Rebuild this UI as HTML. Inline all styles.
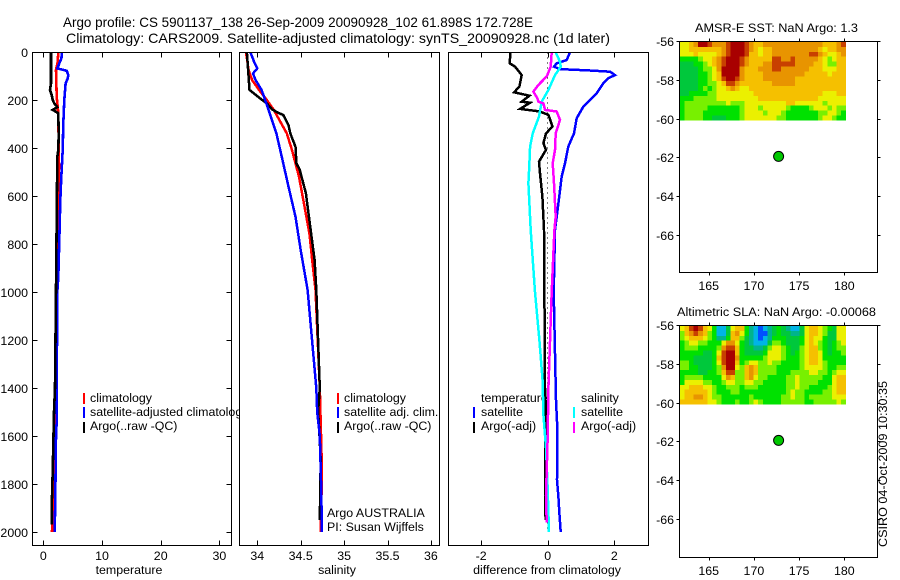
<!DOCTYPE html>
<html>
<head>
<meta charset="utf-8">
<title>Argo profile</title>
<style>
html,body{margin:0;padding:0;background:#fff;}
svg{display:block;}
text{font-family:"Liberation Sans",sans-serif;fill:#000;font-size:12.4px;}
.title{font-size:14px;}
</style>
</head>
<body>
<svg id="chart" xmlns="http://www.w3.org/2000/svg" width="900" height="580" viewBox="0 0 900 580">
<defs><clipPath id="clip-p1"><rect x="32" y="52" width="207" height="493"/></clipPath></defs>
<text class="title" x="63" y="27" textLength="470" lengthAdjust="spacingAndGlyphs">Argo profile: CS 5901137_138 26-Sep-2009 20090928_102 61.898S 172.728E</text>
<text class="title" x="66" y="43" textLength="544" lengthAdjust="spacingAndGlyphs">Climatology: CARS2009. Satellite-adjusted climatology: synTS_20090928.nc (1d later)</text>
<text x="695" y="32" textLength="163" lengthAdjust="spacingAndGlyphs">AMSR-E SST: NaN Argo: 1.3</text>
<text x="677" y="316" textLength="199" lengthAdjust="spacingAndGlyphs">Altimetric SLA: NaN Argo: -0.00068</text>
<text transform="translate(887,547) rotate(-90)" textLength="166" lengthAdjust="spacingAndGlyphs">CSIRO 04-Oct-2009 10:30:35</text>
<text x="129" y="574" text-anchor="middle">temperature</text>
<text x="337" y="574" text-anchor="middle">salinity</text>
<text x="547" y="574" text-anchor="middle">difference from climatology</text>
<text x="327" y="517">Argo AUSTRALIA</text>
<text x="327" y="531">PI: Susan Wijffels</text>
<g clip-path="url(#clip-p1)">
<text x="90" y="402">climatology</text>
<text x="90" y="416">satellite-adjusted climatology</text>
<text x="90" y="430">Argo(..raw -QC)</text>
</g>
<text x="344" y="402">climatology</text>
<text x="344" y="416">satellite adj. clim.</text>
<text x="344" y="430">Argo(..raw -QC)</text>
<text x="481" y="402">temperature</text>
<text x="481" y="416">satellite</text>
<text x="481" y="430">Argo(-adj)</text>
<text x="581" y="402">salinity</text>
<text x="581" y="416">satellite</text>
<text x="581" y="430">Argo(-adj)</text>
<rect x="83" y="393" width="2" height="11" fill="#f00"/>
<rect x="83" y="407" width="2" height="11" fill="#00f"/>
<rect x="83" y="422" width="2" height="11" fill="#000"/>
<rect x="337" y="393" width="2" height="11" fill="#f00"/>
<rect x="337" y="407" width="2" height="11" fill="#00f"/>
<rect x="337" y="422" width="2" height="11" fill="#000"/>
<rect x="473" y="407" width="2" height="11" fill="#00f"/>
<rect x="473" y="422" width="2" height="11" fill="#000"/>
<rect x="573" y="407" width="2" height="11" fill="#0ff"/>
<rect x="573" y="422" width="2" height="11" fill="#f0f"/>
</svg>
<script>
// ---- profile data: depth (m) and value pairs ----
const tempClimDepth = [0,40,74,185,254,477,686,1000,1400,1800,2000];
const tempClimValue = [2.56,2.45,2.17,2.28,2.56,2.67,2.56,2.28,2.0,1.7,1.48];
const tempSatDepth = [0,25,45,67,77,95,109,130,199,296,408,519,616,783,936,1000,1400,1540,1600,1850,2000];
const tempSatValue = [3.19,3.08,2.75,2.4,3.98,4.26,4.15,3.8,3.58,3.41,3.3,3.07,2.9,2.73,2.56,2.39,2.28,2.28,2.17,2.05,1.94];
const tempArgoDepth = [0,130,157,178,199,213,229,240,254,338,408,436,990,1400,1500,1750,1900,1970];
const tempArgoValue = [1.31,1.31,1.14,1.43,1.6,1.88,2.39,1.6,2.56,2.62,2.56,2.39,2.17,1.99,1.82,1.6,1.43,1.43];

const salClimDepth = [0,74,116,157,199,240,338,408,519,616,755,894,991,1400,1750,2000];
const salClimValue = [33.87,33.9,33.94,34.02,34.11,34.19,34.34,34.4,34.48,34.53,34.6,34.64,34.67,34.72,34.745,34.73];
const salSatDepth = [0,46,67,88,116,157,199,240,338,449,560,686,825,991,1400,1500,1600,1800,2000];
const salSatValue = [33.92,33.97,34.0,33.95,33.98,34.05,34.09,34.13,34.22,34.29,34.36,34.44,34.5,34.58,34.68,34.69,34.72,34.735,34.745];
const salArgoDepth = [0,157,171,192,213,238,248,262,303,338,394,463,491,588,672,755,866,991,1400,1500,1550,1700,1950];
const salArgoValue = [33.88,33.91,33.96,34.03,34.11,34.17,34.22,34.3,34.36,34.38,34.44,34.45,34.49,34.56,34.59,34.62,34.66,34.68,34.72,34.7,34.71,34.73,34.72];

const diffTempSatDepth = [0,32,46,60,70,76,81,95,108,129,171,227,275,338,393,463,518,630,741,1000,1450,1575,1783,1853,1923,2000];
const diffTempSatValue = [.67,.57,.27,.19,.37,1.27,1.87,2.02,1.82,1.67,1.47,1.07,.87,.79,.62,.52,.42,.32,.22,.18,.25,.29,.28,.32,.35,.39];
const diffTempArgoDepth = [0,46,60,95,143,167,181,206,210,236,247,261,279,310,338,379,407,456,504,602,741,1000,1400,1500,1730,1920,1950];
const diffTempArgoValue = [-1.12,-1.14,-.98,-.78,-.85,-1.01,-.55,-.78,-.53,-.83,-.23,.02,.07,.14,-.05,-.13,-.05,-.26,-.23,-.16,-.11,-.1,-.08,-.05,-.08,-.08,-.05];
const diffSalSatDepth = [0,39,60,95,157,206,268,338,393,491,546,630,741,1000,1200,1375,1510,1650,1790,2000];
const diffSalSatValue = [.24,.37,.39,.22,.02,-.18,-.26,-.45,-.53,-.56,-.58,-.55,-.51,-.38,-.25,-.15,-.13,-.05,-.01,.04];
const diffSalArgoDepth = [0,60,101,136,164,192,206,213,240,247,282,338,407,463,546,685,741,1000,1400,1600,1850,1960];
const diffSalArgoValue = [.12,.09,-.03,-.28,-.43,-.31,-.28,-.13,-.08,.27,.37,.24,.22,.15,.19,.24,.2,.12,.02,0,-.05,-.03];
const zeroLineDepth = [0,2000];
const zeroLineValue = [0,0];

// ---- tick labels ----
const depthTicks = [0,200,400,600,800,1000,1200,1400,1600,1800,2000];
const tempTicks = [0,10,20,30];
const salTicks = [34,34.5,35,35.5,36];
const diffTicks = [-2,0,2];
const lonTicks = [165,170,175,180];
const latTicks = [-56,-58,-60,-62,-64,-66];

// ---- map data ----
const floatLon = [172.728];
const floatLat = [-61.898];
const sstGrid = [
[6,6,7,8,10,10,9,8,8,8,9,10,10,10,9,8,7,7,8,8,8,8,8,8,8,8,8,8,8,8,8,7,7,7,8,9],
[6,6,7,7,7,7,7,7,7,8,9,10,10,10,9,8,7,6,7,7,8,8,8,8,8,8,8,8,8,8,7,6,7,7,8,8],
[6,6,6,7,6,6,6,6,7,8,9,10,10,10,9,7,7,6,7,7,8,8,8,8,8,8,8,8,9,9,8,7,6,6,7,8],
[4,4,4,4,5,6,6,7,8,9,10,10,10,9,8,7,7,7,7,7,9,9,8,8,9,8,8,8,8,8,7,6,5,6,7,7],
[3,3,3,4,4,5,6,7,8,9,10,10,10,9,8,7,7,7,8,8,9,9,9,9,9,8,8,8,8,7,7,6,5,5,7,7],
[3,3,3,3,4,5,5,6,8,10,10,10,10,8,7,7,7,8,8,8,9,9,8,8,8,8,8,8,7,7,7,6,6,6,7,7],
[3,3,3,3,4,4,5,6,7,10,10,10,10,8,7,7,7,7,8,8,8,8,8,8,8,8,8,7,7,7,7,7,6,7,7,7],
[3,3,3,3,4,4,5,6,7,9,10,10,9,8,7,7,7,7,8,8,8,8,8,8,8,7,7,7,7,7,7,7,7,7,7,7],
[3,3,3,3,4,4,5,5,6,7,9,9,8,7,7,7,7,7,7,7,8,8,8,8,8,7,7,7,7,7,7,7,7,7,7,7],
[3,3,3,3,4,5,4,5,6,6,7,8,7,6,6,7,7,7,7,7,7,7,7,7,7,7,7,7,7,7,7,7,7,7,7,7],
[3,3,4,4,4,4,5,5,6,6,6,6,6,6,6,6,7,7,7,7,7,7,7,7,7,7,7,7,7,7,7,6,6,6,7,7],
[4,4,4,5,5,5,5,5,6,6,6,6,6,6,6,6,6,7,7,7,7,7,7,7,7,7,7,7,7,7,6,6,6,6,6,6],
[4,5,5,5,5,5,5,5,5,5,6,5,5,5,6,6,6,6,6,6,6,6,6,7,7,6,6,6,6,6,6,5,6,6,6,6],
[4,5,5,5,5,5,4,4,4,4,4,4,4,5,6,6,6,5,6,6,6,6,6,5,4,4,4,4,5,6,6,6,5,6,5,5],
[4,5,5,5,5,4,4,4,4,4,4,4,4,5,6,6,6,6,5,6,6,6,5,4,4,4,4,4,4,4,5,5,6,6,5,4],
[4,5,5,5,5,4,4,3,3,3,4,4,4,5,6,6,6,6,6,6,6,5,5,4,4,4,4,4,4,4,5,6,6,5,4,4]
];
const slaGrid = [
[6,7,9,10,9,7,6,4,1,1,3,6,7,7,4,2,1,0,1,2,3,4,3,2,1,1,3,6,7,7,6,5,4,3,6,6],
[5,7,8,9,8,7,5,4,1,1,3,7,8,6,4,2,1,0,0,2,3,4,3,3,2,2,3,6,7,7,6,5,3,3,6,6],
[5,6,7,7,7,6,5,4,2,2,4,7,7,5,3,2,1,0,1,2,4,4,4,3,3,3,4,6,7,6,6,4,3,3,6,6],
[4,5,6,6,5,5,4,4,4,6,8,8,6,4,3,2,1,1,1,3,5,5,4,3,3,3,4,6,7,6,5,4,3,4,5,6],
[4,5,5,5,4,4,4,4,5,8,9,9,7,4,3,3,2,2,3,5,6,6,5,4,3,3,5,6,7,7,5,4,3,4,5,5],
[4,4,4,4,4,3,3,4,6,9,10,10,7,4,3,3,3,3,4,6,6,6,5,4,3,4,5,6,7,7,6,4,3,4,4,5],
[4,4,4,3,3,3,3,4,7,9,10,10,8,4,4,4,4,4,5,6,6,6,5,4,4,4,5,6,7,7,6,4,4,4,4,4],
[5,5,4,3,3,3,3,4,6,9,10,10,7,4,5,6,6,5,5,6,5,5,4,4,4,4,5,6,7,7,6,5,4,4,4,4],
[5,5,4,4,3,3,3,4,5,8,10,10,6,5,7,8,7,5,5,5,5,4,4,4,4,4,5,6,6,6,6,5,4,4,5,5],
[4,4,4,4,3,3,4,4,5,7,9,9,5,5,7,8,7,5,5,5,5,4,4,4,5,5,5,5,6,6,5,5,4,5,6,6],
[4,5,5,5,5,4,4,4,4,6,8,7,5,5,7,8,6,5,5,4,4,4,4,5,5,6,5,5,5,5,5,4,4,6,7,7],
[4,6,6,6,6,5,5,4,4,5,6,6,5,5,6,6,5,5,4,4,4,4,4,5,5,6,5,5,5,5,4,4,4,6,7,7],
[6,6,7,7,7,6,6,5,4,4,5,5,5,4,5,5,5,4,4,4,4,4,4,5,5,6,5,5,4,4,4,4,5,6,7,7],
[6,7,7,7,7,7,6,5,4,4,4,5,5,4,4,4,4,4,4,4,4,4,4,5,6,5,5,4,4,4,4,5,5,6,7,7],
[6,7,7,8,8,7,6,5,5,4,4,4,4,4,4,5,4,4,4,4,4,4,5,5,6,5,5,4,5,5,5,5,5,6,6,6],
[7,7,7,7,7,7,6,6,5,4,4,4,5,4,4,5,6,5,4,4,4,4,5,5,5,5,5,4,4,5,5,5,5,5,6,5]
];
const colorScale = ["#0050ff","#00b4e6","#00b48c","#00c83c","#00e100","#78f000","#ebf000","#f5c000","#e89400","#c84000","#a80000"];

const svg = document.getElementById('chart');
const NS = 'http://www.w3.org/2000/svg';
function make(tag, attrs, parent){
  const el = document.createElementNS(NS, tag);
  for (const k in attrs) el.setAttribute(k, attrs[k]);
  (parent || svg).appendChild(el);
  return el;
}
// axis functions
const yDepth = d => 52.3 + 0.2398 * d;
const xTemp = v => 43.3 + 5.87 * v;
const xSal = v => 257.3 + 86.8 * (v - 34);
const xDiff = v => 547.7 + 33.3 * v;
const xLon = v => 708.7 + 9.04 * (v - 165);
const yLatTop = v => 42 + 19.4 * (-56 - v);
const yLatBot = v => 326 + 19.4 * (-56 - v);

function drawLine(name, depths, values, xf, color, width, dash){
  const pts = depths.map((d, i) => xf(values[i]).toFixed(1) + ',' + yDepth(d).toFixed(1)).join(' ');
  const el = make('polyline', {points: pts, fill: 'none', stroke: color, 'stroke-width': width, 'shape-rendering': 'crispEdges'});
  if (dash) el.setAttribute('stroke-dasharray', dash);
  
  
}
function tickLine(x1, y1, x2, y2, parentName){
  const el = make('line', {x1: x1, y1: y1, x2: x2, y2: y2, stroke: '#000', 'stroke-width': 1, 'shape-rendering': 'crispEdges'});
  
  
}
function label(txt, x, y, anchor, name){
  const el = make('text', {x: x, y: y, 'text-anchor': anchor});
  el.textContent = txt;
  
  
}
function frame(x, y, w, h, name){
  const el = make('rect', {x: x, y: y, width: w, height: h, fill: 'none', stroke: '#000', 'stroke-width': 1, 'shape-rendering': 'crispEdges'});
  
  
}

// temperature panel
drawLine('temperature-climatology-line', tempClimDepth, tempClimValue, xTemp, '#f00', 2.6);
drawLine('temperature-satellite-line', tempSatDepth, tempSatValue, xTemp, '#00f', 2.6);
drawLine('temperature-argo-line', tempArgoDepth, tempArgoValue, xTemp, '#000', 2.6);
// salinity panel
drawLine('salinity-climatology-line', salClimDepth, salClimValue, xSal, '#f00', 2.5);
drawLine('salinity-argo-line', salArgoDepth, salArgoValue, xSal, '#000', 2.5);
drawLine('salinity-satellite-line', salSatDepth, salSatValue, xSal, '#00f', 2.5);
// difference panel
drawLine('zero-reference-line', zeroLineDepth, zeroLineValue, xDiff, '#000', 1, '1 4');
drawLine('difference-temp-satellite-line', diffTempSatDepth, diffTempSatValue, xDiff, '#00f', 2.5);
drawLine('difference-temp-argo-line', diffTempArgoDepth, diffTempArgoValue, xDiff, '#000', 2.5);
drawLine('difference-sal-satellite-line', diffSalSatDepth, diffSalSatValue, xDiff, '#0ff', 2.5);
drawLine('difference-sal-argo-line', diffSalArgoDepth, diffSalArgoValue, xDiff, '#f0f', 2.5);

// panel frames, ticks
frame(32.5, 52.5, 199, 493, 'temperature-panel-frame');
frame(239.5, 52.5, 200, 493, 'salinity-panel-frame');
frame(448.5, 52.5, 200, 493, 'difference-panel-frame');
depthTicks.forEach(d => {
  const y = Math.round(yDepth(d)) + 0.5;
  tickLine(32.5, y, 37.5, y, 'depth-tick-left');
  tickLine(226.5, y, 231.5, y, 'depth-tick-right');
  label(String(d), 28, y + 4.5, 'end', 'depth-tick-label');
});
tempTicks.forEach(v => {
  const x = Math.round(xTemp(v)) + 0.5;
  tickLine(x, 52.5, x, 57.5, 'temperature-tick-top');
  tickLine(x, 540.5, x, 545.5, 'temperature-tick-bottom');
  label(String(v), xTemp(v), 560, 'middle', 'temperature-tick-label');
});
salTicks.forEach(v => {
  const x = Math.round(xSal(v)) + 0.5;
  tickLine(x, 52.5, x, 57.5, 'salinity-tick-top');
  tickLine(x, 540.5, x, 545.5, 'salinity-tick-bottom');
  label(String(v), xSal(v), 560, 'middle', 'salinity-tick-label');
});
diffTicks.forEach(v => {
  const x = Math.round(xDiff(v)) + 0.5;
  tickLine(x, 52.5, x, 57.5, 'difference-tick-top');
  tickLine(x, 540.5, x, 545.5, 'difference-tick-bottom');
  label(String(v), xDiff(v), 560, 'middle', 'difference-tick-label');
});

// maps
function drawMap(prefix, grid, yLat, bottomPx){
  const lonStart = 161.8, dLon = 0.51, dLat = 0.2525;
  const gEl = make('g', {'shape-rendering': 'crispEdges'});
  
  
  grid.forEach((row, r) => {
    row.forEach((v, c) => {
      const x0 = xLon(lonStart + c * dLon);
      const x1 = xLon(lonStart + (c + 1) * dLon);
      const y0 = yLat(-56 - r * dLat);
      const y1 = yLat(-56 - (r + 1) * dLat);
      const cell = make('rect', {x: x0.toFixed(2), y: y0.toFixed(2), width: (x1 - x0 + 0.3).toFixed(2), height: (y1 - y0 + 0.3).toFixed(2), fill: colorScale[v]}, gEl);
      
      
    });
  });
  const top = Math.round(yLat(-56));
  frame(679.5, top - 0.5, 198, bottomPx - top + 1, prefix + '-map-frame');
  lonTicks.forEach(v => {
    const x = Math.round(xLon(v)) + 0.5;
    tickLine(x, top - 3.5, x, top - 0.5, prefix + '-lon-tick-top');
    tickLine(x, bottomPx + 0.5, x, bottomPx + 3.5, prefix + '-lon-tick-bottom');
    label(String(v), xLon(v), bottomPx + 18, 'middle', prefix + '-lon-label');
  });
  latTicks.forEach(v => {
    const y = Math.round(yLat(v)) - 0.5;
    tickLine(676.5, y, 679.5, y, prefix + '-lat-tick-left');
    tickLine(877.5, y, 880.5, y, prefix + '-lat-tick-right');
    label(String(v), 674, y + 4.5, 'end', prefix + '-lat-label');
  });
  const dot = make('circle', {cx: xLon(floatLon[0]).toFixed(1), cy: yLat(floatLat[0]).toFixed(1), r: 5, fill: '#00c800', stroke: '#000', 'stroke-width': 1});
  
  
}
drawMap('sst', sstGrid, yLatTop, 272);
drawMap('sla', slaGrid, yLatBot, 557);
</script>
</body>
</html>
